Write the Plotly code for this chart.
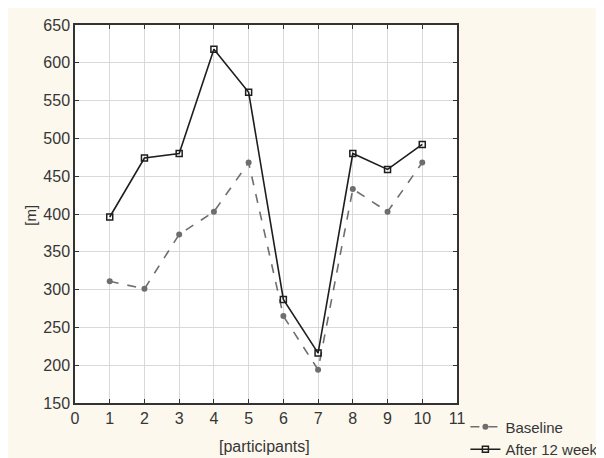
import plotly.graph_objects as go

participants = [1, 2, 3, 4, 5, 6, 7, 8, 9, 10]
baseline = [311, 301, 373, 403, 468, 265, 194, 433, 403, 468]
after_12_weeks = [396, 474, 480, 618, 561, 287, 216, 480, 459, 492]

x_ticks = list(range(0, 12))
y_ticks = list(range(150, 651, 50))

fig = go.Figure()
fig.add_trace(go.Scatter(
    x=participants, y=baseline, name="Baseline", mode="lines+markers",
    line=dict(color="#6e6e6e", width=1.6, dash="dash"),
    marker=dict(symbol="circle", size=6, color="#6e6e6e"),
))
fig.add_trace(go.Scatter(
    x=participants, y=after_12_weeks, name="After 12 weeks", mode="lines+markers",
    line=dict(color="#1e1e1e", width=1.6),
    marker=dict(symbol="square-open", size=6, color="#1e1e1e", line=dict(width=1.5)),
))

axis_common = dict(
    showline=True, linecolor="#333333", linewidth=1.5, mirror="ticks",
    ticks="inside", ticklen=4, tickcolor="#333333",
    showgrid=True, gridcolor="#d9d9d9", gridwidth=1, zeroline=False,
    tickfont=dict(family="Liberation Sans, Arial, sans-serif", size=16, color="#363636"),
)

fig.update_layout(
    width=604, height=458,
    margin=dict(l=67, r=155, t=17, b=63, autoexpand=False),
    paper_bgcolor="#fcf8ee", plot_bgcolor="#ffffff",
    font=dict(family="Liberation Sans, Arial, sans-serif", size=14, color="#363636"),
    xaxis=dict(range=[0, 11], tickvals=x_ticks, **axis_common),
    yaxis=dict(range=[150, 650], tickvals=y_ticks, **axis_common),
    showlegend=True,
    legend=dict(x=1.022, y=-0.02, xanchor="left", yanchor="top",
                bgcolor="rgba(0,0,0,0)", font=dict(size=15, color="#363636"),
                tracegroupgap=0, itemwidth=30),
    annotations=[
        dict(text="[m]", xref="paper", yref="paper", x=-0.144, y=0.497,
             textangle=-90, showarrow=False, font=dict(size=15, color="#363636")),
        dict(text="[participants]", xref="paper", yref="paper", x=0.497, y=-0.114,
             yanchor="middle", showarrow=False, font=dict(size=16, color="#363636")),
    ],
)

fig.write_html("out.html")
